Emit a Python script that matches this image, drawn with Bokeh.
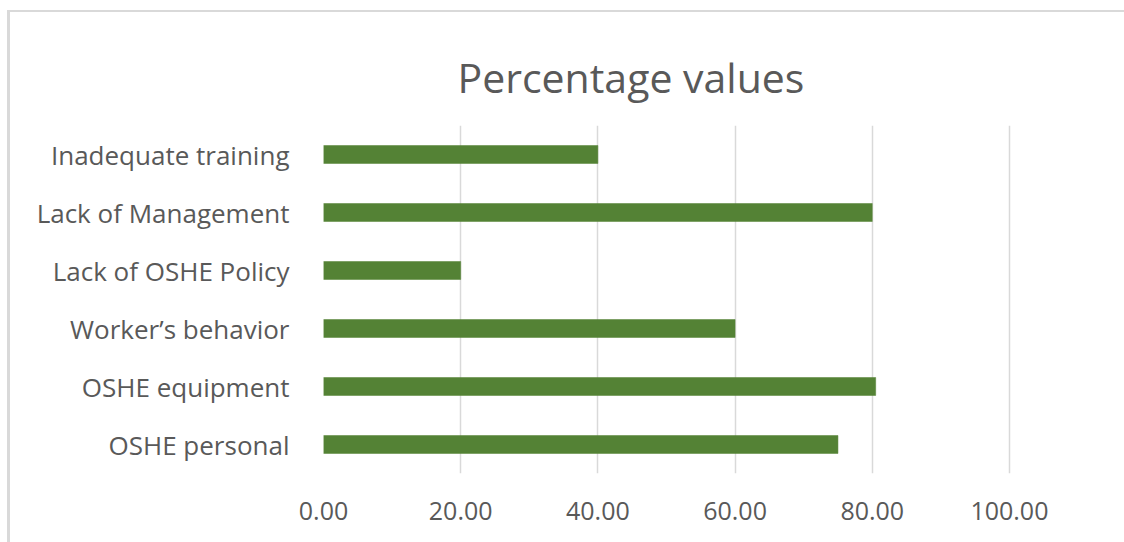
from bokeh.plotting import figure
from bokeh.models import ColumnDataSource, FactorRange, Range1d, FixedTicker, NumeralTickFormatter
from bokeh.embed import file_html
from bokeh.resources import INLINE

# Categories listed top to bottom, with their percentage values
categories = [
    "Inadequate training",
    "Lack of Management",
    "Lack of OSHE Policy",
    "Worker\u2019s behavior",
    "OSHE equipment",
    "OSHE personal",
]
percentages = [40.0, 80.0, 20.0, 60.0, 80.5, 75.0]
x_ticks = [0, 20, 40, 60, 80, 100]

TEXT = "#595959"
GRID = "#d9d9d9"
BAR = "#548235"

# bottom-to-top order for the categorical y axis
y_factors = list(reversed(categories))
source = ColumnDataSource(dict(cat=categories, val=percentages))

p = figure(
    width=1124, height=542,
    y_range=FactorRange(*y_factors),
    x_range=Range1d(0, 100.3),
    output_backend="svg", toolbar_location=None,
    min_border_left=323, min_border_right=113,
    min_border_top=125, min_border_bottom=69,
)
# light chart-area frame along the top and left edges, painted behind
# a transparent border area
p.styles = {
    "background-color": "white",
    "box-shadow": "inset 7px 10px 0 0 white, inset 10px 12px 0 0 #d9d9d9",
}
p.outline_line_color = None
p.background_fill_color = "white"
p.border_fill_color = None

p.hbar(y="cat", left=0, right="val", height=0.31, source=source,
       fill_color=BAR, line_color=BAR, line_width=0.5)

# title
p.title.text = "Percentage values"
p.title.align = "left"
p.title.offset = 134
p.title.standoff = 41
p.title.text_font = "Open Sans"
p.title.text_font_size = "41px"
p.title.text_font_style = "normal"
p.title.text_color = TEXT

# grid
p.xgrid.grid_line_color = GRID
p.xgrid.grid_line_width = 1.5
p.ygrid.grid_line_color = None

# x axis
xa = p.xaxis[0]
xa.ticker = FixedTicker(ticks=x_ticks)
xa.formatter = NumeralTickFormatter(format="0.00")
xa.axis_line_color = None
xa.major_tick_line_color = None
xa.minor_tick_line_color = None
xa.major_label_text_font = "Open Sans"
xa.major_label_text_font_size = "25px"
xa.major_label_text_color = TEXT
xa.major_label_standoff = 22

# y axis
ya = p.yaxis[0]
ya.axis_line_color = None
ya.major_tick_line_color = None
ya.minor_tick_line_color = None
ya.major_label_text_font = "Open Sans"
ya.major_label_text_font_size = "26px"
ya.major_label_text_color = TEXT
ya.major_label_standoff = 28

open("out.html", "w").write(file_html(p, INLINE))
